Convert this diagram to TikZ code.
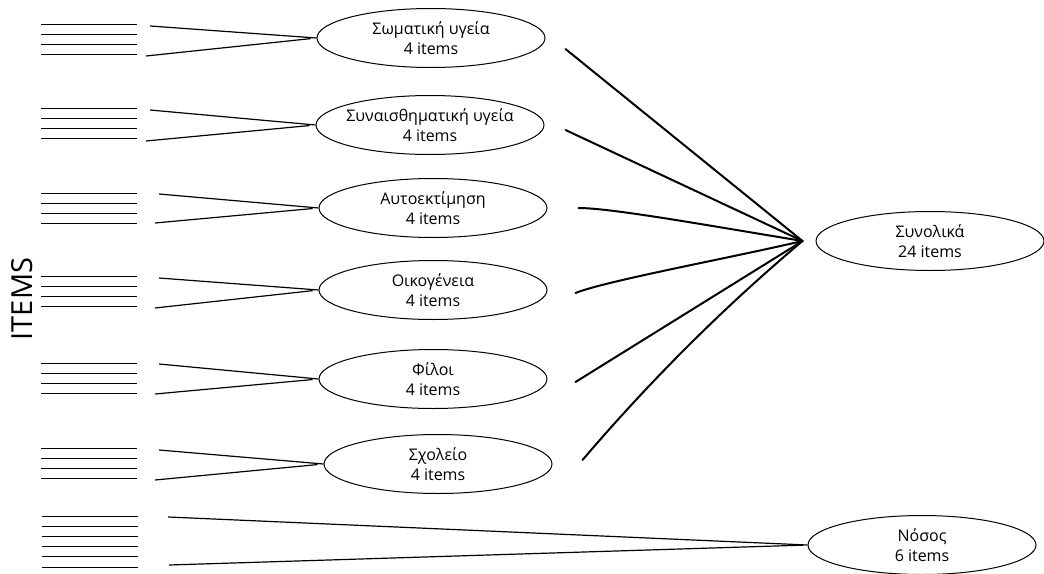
\documentclass[tikz,border=0pt]{standalone}
\usepackage{fontspec}
\setmainfont{Open Sans}
\usetikzlibrary{shapes.geometric}

\newcommand{\wide}[1]{\makebox[40pt]{#1}}

\begin{document}
\begin{tikzpicture}[x=0.5pt,y=-0.5pt,
    factor/.style={draw,ellipse,line width=0.5pt,minimum width=114pt,minimum height=29.5pt,
      inner sep=0pt,align=center,font=\fontsize{8}{10}\selectfont},
    bar/.style={line width=0.5pt},
    fan/.style={line width=0.6pt,shorten >=3pt},
    load/.style={line width=1pt,line cap=round}]
      \useasboundingbox (0,0) rectangle (1044,573);
      \node[factor] (f1) at (431,38) {\wide{Σωματική υγεία}\\4 items};
      \node[factor] (f2) at (430,125) {\wide{Συναισθηματική υγεία}\\4 items};
      \node[factor] (f3) at (433,208) {\wide{Αυτοεκτίμηση}\\4 items};
      \node[factor] (f4) at (433,290) {\wide{Οικογένεια}\\4 items};
      \node[factor] (f5) at (433,379) {\wide{Φίλοι}\\4 items};
      \node[factor] (f6) at (438,464) {\wide{Σχολείο}\\4 items};
      \node[factor] (tot) at (930,241) {\wide{Συνολικά}\\24 items};
      \node[factor] (nos) at (922,545) {\wide{Νόσος}\\6 items};
      \node[rotate=90,font=\fontsize{14.5}{17}\selectfont] (items) at (22,299) {ITEMS};
      \foreach \y in {24,108,193,276,363,448}
        \foreach \k in {0,...,3}
          \draw[bar] (41,\y+10.3*\k) -- (137,\y+10.3*\k);
      \foreach \k in {0,...,5}
        \draw[bar] (42,516+10.2*\k) -- (138,516+10.2*\k);
      \coordinate (a1) at (150,26);  \coordinate (b1) at (146,56);
      \coordinate (a2) at (150,110); \coordinate (b2) at (146,141);
      \coordinate (a3) at (159,194); \coordinate (b3) at (155,223);
      \coordinate (a4) at (159,278); \coordinate (b4) at (155,308);
      \coordinate (a5) at (159,364); \coordinate (b5) at (155,394);
      \coordinate (a6) at (159,450); \coordinate (b6) at (155,480);
      \coordinate (c1) at (168,517); \coordinate (c2) at (169,565);
      \foreach \i in {1,...,6}
        \draw[fan] (a\i) -- (f\i.west) (b\i) -- (f\i.west);
      \draw[fan,shorten >=2pt] (c1) -- (nos.west) (c2) -- (nos.west);
      \coordinate (hub) at ([shift={(-13,0)}]tot.west);
      \coordinate (s1) at ([shift={(20,11)}]f1.east);
      \coordinate (s2) at ([shift={(21,5)}]f2.east);
      \coordinate (s3) at ([shift={(31,0)}]f3.east);
      \coordinate (s4) at ([shift={(28,3)}]f4.east);
      \coordinate (s5) at ([shift={(28,3)}]f5.east);
      \coordinate (s6) at ([shift={(30,-4)}]f6.east);
      \draw[load] (s1) -- (hub);
      \draw[load] (s2) -- (hub);
      \draw[load] (s3) .. controls (610,208) and (700,224) .. (hub);
      \draw[load] (s4) .. controls (605,281) and (730,258) .. (hub);
      \draw[load] (s5) -- (hub);
      \draw[load] (s6) .. controls (650,381) and (723,308) .. (hub);
    \end{tikzpicture}
\end{document}
